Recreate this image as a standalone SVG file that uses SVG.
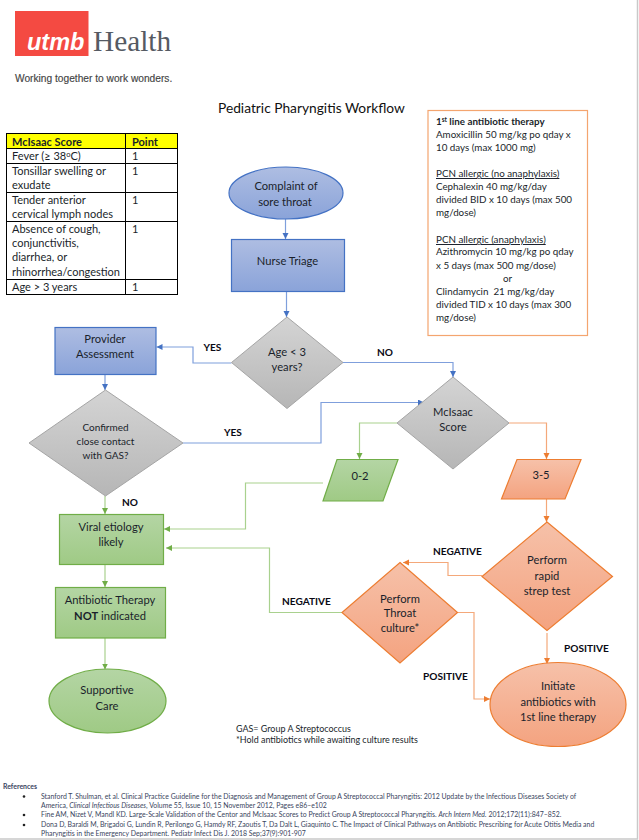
<svg xmlns="http://www.w3.org/2000/svg" width="639" height="840" viewBox="0 0 639 840">
<style>
text{font-family:Lato,"Liberation Sans",sans-serif;fill:#1a1f2b}
.n{font-size:11.2px;text-anchor:middle}
.l{font-size:10.1px;font-weight:700;fill:#0a0a14}
.t{font-size:11px}
.b{font-size:9.8px}
.r{font-size:6.92px;fill:#3a4560}
.g{font-size:8.95px}
.blue{fill:url(#gb);stroke:#4472c4;stroke-width:1.2}
.green{fill:url(#gg);stroke:#70ad47;stroke-width:1.2}
.orange{fill:url(#go);stroke:#ed7d31;stroke-width:1.2}
.gray{fill:url(#gy);stroke:#a5a5a5;stroke-width:1}
.c{fill:none;stroke-width:1.2}
.cb{stroke:#7f9fdc}.cg{stroke:#a9d18e}.co{stroke:#f4a87a}
.tb{fill:none;stroke:#000;stroke-width:1}
</style>
<defs>
<linearGradient id="gb" x1="0" y1="0" x2="0" y2="1"><stop offset="0" stop-color="#aebde2"/><stop offset="1" stop-color="#8aa3d9"/></linearGradient>
<linearGradient id="gg" x1="0" y1="0" x2="0" y2="1"><stop offset="0" stop-color="#b4d5a4"/><stop offset="1" stop-color="#9fca85"/></linearGradient>
<linearGradient id="go" x1="0" y1="0" x2="0" y2="1"><stop offset="0" stop-color="#f6c1a9"/><stop offset="1" stop-color="#f4a380"/></linearGradient>
<linearGradient id="gy" x1="0" y1="0" x2="0" y2="1"><stop offset="0" stop-color="#d4d4d4"/><stop offset="1" stop-color="#b6b6b6"/></linearGradient>
<marker id="ab" markerUnits="userSpaceOnUse" markerWidth="7" markerHeight="7" refX="6" refY="3" orient="auto"><path d="M0 0L6 3L0 6Z" fill="#4472c4"/></marker>
<marker id="ag" markerUnits="userSpaceOnUse" markerWidth="7" markerHeight="7" refX="6" refY="3" orient="auto"><path d="M0 0L6 3L0 6Z" fill="#70ad47"/></marker>
<marker id="ao" markerUnits="userSpaceOnUse" markerWidth="7" markerHeight="7" refX="6" refY="3" orient="auto"><path d="M0 0L6 3L0 6Z" fill="#ed7d31"/></marker>
</defs>
<rect width="639" height="840" fill="#fff"/>
<path d="M637.500 0V839H0" fill="none" stroke="#c9c9c9" stroke-width="1.500"/>
<g id="logo">
<rect x="15" y="11" width="73.500" height="45" fill="#f44a42"/>
<text x="27" y="50" style="font-family:'Liberation Sans',sans-serif;font-size:23.500px;font-weight:700;font-style:italic;fill:#fff">utmb</text>
<text x="93" y="51" style="font-family:'Liberation Serif',serif;font-size:29.300px;fill:#555a63">Health</text>
<text x="15" y="82" style="font-family:'Liberation Sans',sans-serif;font-size:10.200px;fill:#444;stroke:#444;stroke-width:.15px">Working together to work wonders.</text>
</g>
<text id="title" x="218" y="113" style="font-size:13.750px;fill:#111">Pediatric Pharyngitis Workflow</text>
<g id="mcisaac-table">
<rect x="6.500" y="133.500" width="171" height="15" fill="#ff0"/>
<rect class="tb" x="6.500" y="133.500" width="171" height="161"/>
<path class="tb" d="M125.500 133.500V294.500M6.500 148.500H177.500M6.500 163.500H177.500M6.500 192.500H177.500M6.500 221.500H177.500M6.500 279.500H177.500"/>
<text class="t" x="12" y="145.500" font-weight="700">McIsaac Score</text><text class="t" x="132" y="145.500" font-weight="700">Point</text>
<text class="t" x="12" y="160">Fever (≥ 38<tspan dy="-3.500" font-size="7.500">o</tspan><tspan dy="3.500">C)</tspan></text><text class="t" x="132" y="160">1</text>
<text class="t" x="12" y="174.500">Tonsillar swelling or</text><text class="t" x="12" y="189">exudate</text><text class="t" x="132" y="174.500">1</text>
<text class="t" x="12" y="204">Tender anterior</text><text class="t" x="12" y="218">cervical lymph nodes</text><text class="t" x="132" y="204">1</text>
<text class="t" x="12" y="233">Absence of cough,</text><text class="t" x="12" y="247">conjunctivitis,</text><text class="t" x="12" y="261">diarrhea, or</text><text class="t" x="12" y="276">rhinorrhea/congestion</text><text class="t" x="132" y="233">1</text>
<text class="t" x="12" y="291">Age &gt; 3 years</text><text class="t" x="132" y="291">1</text>
</g>
<g id="therapy-box">
<rect x="428" y="110.500" width="159.500" height="225" fill="#fff" stroke="#f4a56f" stroke-width="1.200"/>
<text class="b" x="436" y="125" font-weight="700">1<tspan dy="-3" font-size="6.500">st</tspan><tspan dy="3"> line antibiotic therapy</tspan></text>
<text class="b" x="436" y="138">Amoxicillin 50 mg/kg po qday x</text>
<text class="b" x="436" y="151">10 days (max 1000 mg)</text>
<text class="b" x="436" y="177" text-decoration="underline">PCN allergic (no anaphylaxis)</text>
<text class="b" x="436" y="190">Cephalexin 40 mg/kg/day</text>
<text class="b" x="436" y="203">divided BID x 10 days (max 500</text>
<text class="b" x="436" y="216">mg/dose)</text>
<text class="b" x="436" y="243" text-decoration="underline">PCN allergic (anaphylaxis)</text>
<text class="b" x="436" y="255">Azithromycin 10 mg/kg po qday</text>
<text class="b" x="436" y="269">x 5 days (max 500 mg/dose)</text>
<text class="b" x="503" y="282">or</text>
<text class="b" x="436" y="295" style="white-space:pre">Clindamycin  21 mg/kg/day</text>
<text class="b" x="436" y="308">divided TID x 10 days (max 300</text>
<text class="b" x="436" y="321">mg/dose)</text>
</g>
<g id="connectors">
<path class="c cb" marker-end="url(#ab)" d="M285.500 219V239"/>
<path class="c cb" marker-end="url(#ab)" d="M286.500 291V317"/>
<path class="c cb" marker-end="url(#ab)" d="M231.500 363H193V347H156.500"/>
<path class="c cb" marker-end="url(#ab)" d="M105 375V390"/>
<path class="c cb" marker-end="url(#ab)" d="M183 443H321V402.500H424"/>
<path class="c cb" marker-end="url(#ab)" d="M343 362.500H453V377"/>
<path class="c cg" marker-end="url(#ag)" d="M397 423H359.500V459"/>
<path class="c co" marker-end="url(#ao)" d="M509 423H546.500V459"/>
<path class="c co" marker-end="url(#ao)" d="M546.500 499V522"/>
<path class="c co" marker-end="url(#ao)" d="M482 575.500H448V562.500H403"/>
<path class="c co" marker-end="url(#ao)" d="M547 633V664"/>
<path class="c co" marker-end="url(#ao)" d="M458 612.500H474V699H490"/>
<path class="c cg" marker-end="url(#ag)" d="M342 612.500H269.500V548H166"/>
<path class="c cg" marker-end="url(#ag)" d="M323 483H245.500V529H164"/>
<path class="c cg" marker-end="url(#ag)" d="M105 496V514"/>
<path class="c cg" marker-end="url(#ag)" d="M105 564.500V587"/>
<path class="c cg" marker-end="url(#ag)" d="M105 638V669.500"/>
</g>
<g id="complaint"><ellipse class="blue" cx="286" cy="193" rx="57" ry="26"/><text class="n" x="286" y="190">Complaint of</text><text class="n" x="285" y="206">sore throat</text></g>
<g id="triage"><rect class="blue" x="231.500" y="239.500" width="113" height="52"/><text class="n" x="287.500" y="265">Nurse Triage</text></g>
<g id="age"><polygon class="gray" points="287,317 343,362.500 287,408.500 231.500,362.500"/><text class="n" x="287" y="356">Age &lt; 3</text><text class="n" x="287" y="371">years?</text></g>
<g id="provider"><rect class="blue" x="55" y="327.500" width="101" height="47"/><text class="n" x="105" y="343">Provider</text><text class="n" x="105" y="358">Assessment</text></g>
<g id="confirmed"><polygon class="gray" points="105.500,390 183,443 105.500,496 29,443"/><text class="n" style="font-size:10px" x="105.500" y="431">Confirmed</text><text class="n" style="font-size:10px" x="105.500" y="445">close contact</text><text class="n" style="font-size:10px" x="105.500" y="459">with GAS?</text></g>
<g id="mcisaac"><polygon class="gray" points="453,377 509,423 453,469 397,423"/><text class="n" x="453" y="416">McIsaac</text><text class="n" x="453" y="431">Score</text></g>
<g id="low-score"><polygon class="green" points="337,459.500 398,459.500 383,501 323,501"/><text class="n" x="360" y="480">0-2</text></g>
<g id="high-score"><polygon class="orange" points="517,459.500 581,459.500 565,499 501.500,499"/><text class="n" x="541" y="479">3-5</text></g>
<g id="rapid"><polygon class="orange" points="547,522 612.500,576.500 547,630.500 482,576.500"/><text class="n" x="547" y="564">Perform</text><text class="n" x="547" y="580">rapid</text><text class="n" x="547" y="595">strep test</text></g>
<g id="throat"><polygon class="orange" points="400,562.500 457.500,612.500 400,663 342,612.500"/><text class="n" x="400" y="603">Perform</text><text class="n" x="400" y="617">Throat</text><text class="n" x="400" y="632">culture*</text></g>
<g id="initiate"><ellipse class="orange" cx="558" cy="704.500" rx="68" ry="42"/><text class="n" x="558" y="690">Initiate</text><text class="n" x="558" y="706">antibiotics with</text><text class="n" x="558" y="721">1st line therapy</text></g>
<g id="viral"><rect class="green" x="59.500" y="514.500" width="104" height="50"/><text class="n" x="111" y="531">Viral etiology</text><text class="n" x="111" y="546">likely</text></g>
<g id="not-indicated"><rect class="green" x="55.500" y="587.500" width="110" height="50.500"/><text class="n" x="110" y="604">Antibiotic Therapy</text><text class="n" x="110" y="620"><tspan font-weight="700">NOT</tspan> indicated</text></g>
<g id="supportive"><ellipse class="green" cx="107.500" cy="701" rx="58.500" ry="32"/><text class="n" x="107" y="694">Supportive</text><text class="n" x="107" y="710">Care</text></g>
<g id="labels">
<text class="l" x="203.500" y="351">YES</text><text class="l" x="377" y="356">NO</text><text class="l" x="224" y="436">YES</text><text class="l" x="122" y="506">NO</text>
<text class="l" x="433" y="555">NEGATIVE</text><text class="l" x="282" y="605">NEGATIVE</text><text class="l" x="564" y="652">POSITIVE</text><text class="l" x="423" y="680">POSITIVE</text>
</g>
<g id="notes"><text class="g" x="236" y="732">GAS= Group A Streptococcus</text><text class="g" x="236" y="743">*Hold antibiotics while awaiting culture results</text></g>
<g id="references">
<text class="r" x="3" y="789" font-weight="700">References</text>
<circle cx="24" cy="796.500" r="1.300" fill="#222"/><circle cx="24" cy="815" r="1.300" fill="#222"/><circle cx="24" cy="825" r="1.300" fill="#222"/>
<text class="r" x="41" y="799">Stanford T. Shulman, et al. Clinical Practice Guideline for the Diagnosis and Management of Group A Streptococcal Pharyngitis: 2012 Update by the Infectious Diseases Society of</text>
<text class="r" x="41" y="808">America, <tspan font-style="italic">Clinical Infectious Diseases</tspan>, Volume 55, Issue 10, 15 November 2012, Pages e86–e102</text>
<text class="r" x="41" y="817">Fine AM, Nizet V, Mandl KD. Large-Scale Validation of the Centor and McIsaac Scores to Predict Group A Streptococcal Pharyngitis. <tspan font-style="italic">Arch Intern Med.</tspan> 2012;172(11):847–852.</text>
<text class="r" x="41" y="827">Dona D, Baraldi M, Brigadoi G, Lundin R, Perilongo G, Hamdy RF, Zaoutis T, Da Dalt L, Giaquinto C. The Impact of Clinical Pathways on Antibiotic Prescribing for Acute Otitis Media and</text>
<text class="r" x="41" y="836">Pharyngitis in the Emergency Department. Pediatr Infect Dis J. 2018 Sep;37(9):901-907</text>
</g>
</svg>
